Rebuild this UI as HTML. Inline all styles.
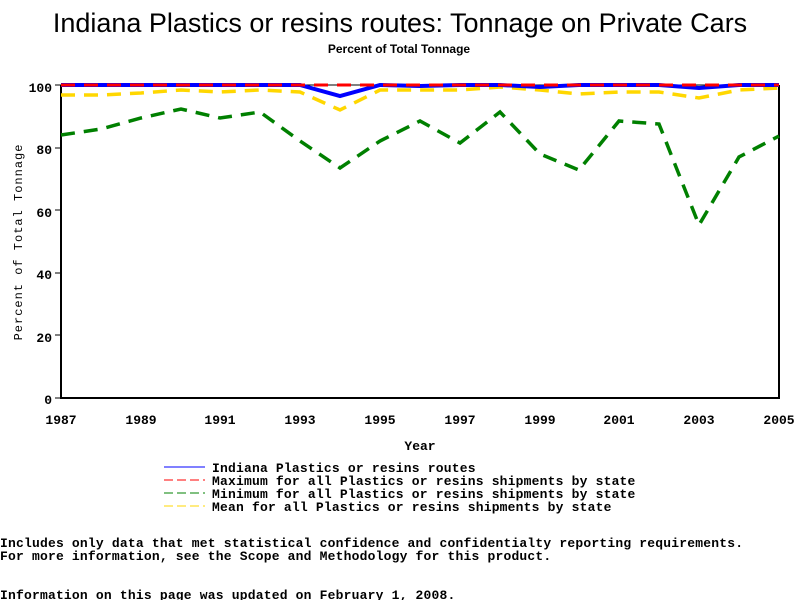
<!DOCTYPE html>
<html><head><meta charset="utf-8"><style>
body{margin:0;background:#fff;width:800px;height:600px;overflow:hidden}
svg text{font-family:"Liberation Mono",monospace;font-weight:bold}
</style></head><body>
<svg width="800" height="600" xmlns="http://www.w3.org/2000/svg">
<text x="400" y="32" text-anchor="middle" style="font-family:'Liberation Sans',sans-serif;font-weight:normal" font-size="27">Indiana Plastics or resins routes: Tonnage on Private Cars</text>
<text x="399" y="53" text-anchor="middle" style="font-family:'Liberation Sans',sans-serif" font-size="12">Percent of Total Tonnage</text>
<g stroke="#000" stroke-width="2" fill="none">
<polyline points="61,85 61,398 779,398 779,85"/>
</g>
<line x1="61" y1="85" x2="779" y2="85" stroke="#000" stroke-width="1"/>
<g stroke="#000" stroke-width="1">
<line x1="55" y1="85" x2="61" y2="85"/><line x1="55" y1="148" x2="61" y2="148"/><line x1="55" y1="210" x2="61" y2="210"/><line x1="55" y1="273" x2="61" y2="273"/><line x1="55" y1="335" x2="61" y2="335"/><line x1="55" y1="398" x2="61" y2="398"/>
</g>
<g font-size="13" text-anchor="end">
<text x="52" y="92">100</text><text x="52" y="154">80</text><text x="52" y="217">60</text><text x="52" y="279">40</text><text x="52" y="342">20</text><text x="52" y="404">0</text>
</g>
<g font-size="13" text-anchor="middle">
<text x="61" y="424">1987</text><text x="141" y="424">1989</text><text x="220" y="424">1991</text><text x="300" y="424">1993</text><text x="380" y="424">1995</text><text x="460" y="424">1997</text><text x="540" y="424">1999</text><text x="619" y="424">2001</text><text x="699" y="424">2003</text><text x="779" y="424">2005</text>
<text x="420" y="450">Year</text>
</g>
<text transform="translate(22,242) rotate(-90)" font-size="12" text-anchor="middle" style="font-weight:normal;letter-spacing:1px">Percent of Total Tonnage</text>
<g fill="none" stroke-width="3.5">
<polyline stroke="#008000" stroke-dasharray="14,9" points="61,135 101,129 141,118 181,109 220,118 260,112 300,141 340,168 380,141 420,121 460,143 500,112 540,154 579,170 619,121 659,124 699,225 739,157 779,136"/>
<polyline stroke="#ffd700" stroke-dasharray="14,9" points="61,95 101,95 141,93 181,90 220,92 260,90 300,92 340,110 380,90 420,90 460,90 500,87 540,90 579,94 619,92 659,92 699,98 739,90 779,88"/>
<polyline stroke="#0000ff" stroke-width="4" points="61,85 101,85 141,85 181,85 220,85 260,85 300,85 340,96 380,85 420,86 460,85 500,85 540,87 579,85 619,85 659,85 699,88 739,85 779,85"/>
<polyline stroke="#ff0000" stroke-dasharray="14,9" stroke-width="3" points="61,85 779,85"/>
</g>
<g stroke-width="1">
<line x1="164" y1="467" x2="205" y2="467" stroke="#0000ff"/>
<line x1="164" y1="480" x2="205" y2="480" stroke="#ff0000" stroke-dasharray="9,4"/>
<line x1="164" y1="493" x2="205" y2="493" stroke="#008000" stroke-dasharray="9,4"/>
<line x1="164" y1="506" x2="205" y2="506" stroke="#ffd700" stroke-dasharray="9,4"/>
</g>
<g font-size="13" style="letter-spacing:0.19px">
<text x="212" y="472">Indiana Plastics or resins routes</text>
<text x="212" y="485">Maximum for all Plastics or resins shipments by state</text>
<text x="212" y="498">Minimum for all Plastics or resins shipments by state</text>
<text x="212" y="511">Mean for all Plastics or resins shipments by state</text>
<text x="0" y="547">Includes only data that met statistical confidence and confidentialty reporting requirements.</text>
<text x="0" y="560">For more information, see the Scope and Methodology for this product.</text>
<text x="0" y="599">Information on this page was updated on February 1, 2008.</text>
</g>
</svg>
</body></html>
